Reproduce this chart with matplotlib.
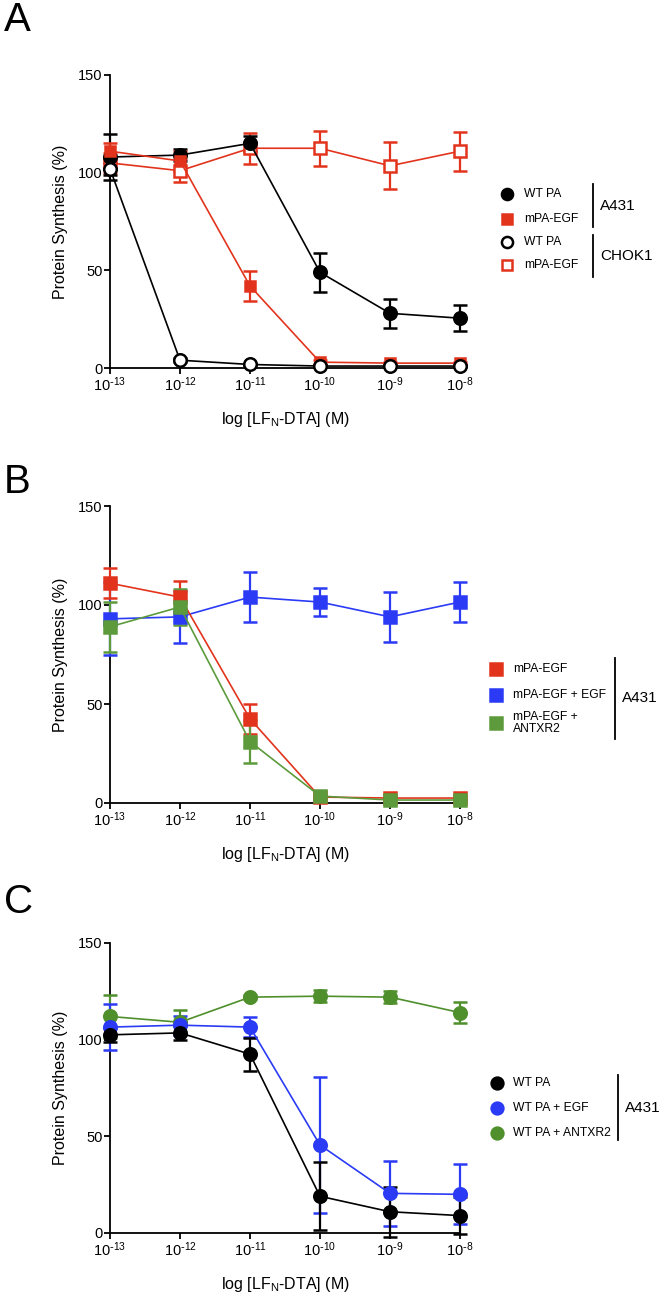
import matplotlib
matplotlib.use('Agg')
import matplotlib.pyplot as plt
from matplotlib.lines import Line2D
import numpy as np

plt.rcParams.update({'font.family': ['Liberation Sans', 'DejaVu Sans'],
                     'mathtext.default': 'regular', 'font.size': 10})

W, H = 666, 1298
RED = '#e2341d'
BLUE = '#2b3bf5'
GREEN = '#5c9a3c'
GREEN_C = '#4f8f2c'

conc = [1e-13, 1e-12, 1e-11, 1e-10, 1e-9, 1e-8]
xtick_labels = ['10$^{\\text{-}13}$', '10$^{\\text{-}12}$', '10$^{\\text{-}11}$',
                '10$^{\\text{-}10}$', '10$^{\\text{-}9}$', '10$^{\\text{-}8}$']

# panel A
a_wt_a431 = [108, 109, 115, 49, 28, 25.5]
a_wt_a431_err = [12, 3, 4, 10, 7.5, 6.5]
a_egf_a431 = [111, 106, 42, 3, 2.5, 2.5]
a_egf_a431_err = [4, 5, 7.5, 1, 0.5, 0.5]
a_wt_chok1 = [102, 4, 1.8, 1, 1, 1]
a_wt_chok1_err = [3, 1, 0.5, 0.5, 0.5, 0.5]
a_egf_chok1 = [105, 101, 112.5, 112.5, 103.5, 111]
a_egf_chok1_err = [5, 6, 8, 9, 12, 10]

# panel B
b_egf = [111, 104, 42.5, 3, 2.5, 2.5]
b_egf_err = [7.5, 8, 7.5, 0.5, 0.5, 0.5]
b_egf_egf = [93, 94, 104, 101.5, 94, 101.5]
b_egf_egf_err = [18.5, 13, 12.5, 7, 12.5, 10]
b_egf_antxr2 = [89, 99, 31, 3.5, 1.5, 1.5]
b_egf_antxr2_err = [12.5, 9, 11, 0.5, 0.5, 0.5]

# panel C
c_wt = [102.5, 103.5, 92.5, 19, 11, 9]
c_wt_err = [3.5, 3.5, 8.5, 17.5, 13, 9.5]
c_wt_egf = [106.5, 107.5, 106.5, 45.5, 20.5, 20]
c_wt_egf_err = [12, 5, 5, 35, 17, 15.5]
c_wt_antxr2 = [112, 109, 122, 122.5, 122, 114]
c_wt_antxr2_err = [11, 6.5, 1, 3, 3, 5.5]


def fx(px):
    return px / W


def fy(py):
    return 1 - py / H


def series(ax, y, err, color, marker, ms, face=None):
    face = color if face is None else face
    ax.errorbar(conc, y, yerr=err, color=color, lw=1.2, elinewidth=1.6,
                capsize=5, capthick=1.6, marker=marker, ms=ms, mfc=face,
                mec=color, mew=1.8, clip_on=False, zorder=3)


def style(ax):
    ax.set_xscale('log')
    ax.set_xlim(1e-13, 1e-8)
    ax.set_ylim(0, 150)
    ax.set_xticks(conc)
    ax.set_xticklabels(xtick_labels)
    ax.xaxis.set_minor_locator(matplotlib.ticker.NullLocator())
    ax.set_yticks([0, 50, 100, 150])
    for s in ['top', 'right']:
        ax.spines[s].set_visible(False)
    for s in ['left', 'bottom']:
        ax.spines[s].set_linewidth(1.3)
    ax.tick_params(width=1.3, length=4, labelsize=10.5, pad=1.5)
    ax.set_ylabel('Protein Synthesis (%)', fontsize=11.5, labelpad=7)
    ax.set_xlabel('log [LF$_N$-DTA] (M)', fontsize=11.5, labelpad=11)


def legend(fig, entries, mx, tx, rows, groups):
    for (color, marker, ms, face, label), ry in zip(entries, rows):
        fig.add_artist(Line2D([fx(mx)], [fy(ry)], marker=marker, ms=ms, color=color,
                              mfc=face, mec=color, mew=1.8, ls='none'))
        fig.text(fx(tx), fy(ry), label, ha='left', va='center', fontsize=8.7, linespacing=1.05)
    for lx, y0, y1, gl in groups:
        fig.add_artist(Line2D([fx(lx), fx(lx)], [fy(y0), fy(y1)], color='black', lw=1.3))
        fig.text(fx(lx + 7), fy((y0 + y1) / 2), gl, ha='left', va='center', fontsize=11)


fig = plt.figure(figsize=(W / 100, H / 100), dpi=100)
left, width = fx(110), fx(460) - fx(110)
axA = fig.add_axes([left, fy(368), width, fy(75) - fy(368)])
axB = fig.add_axes([left, fy(803), width, fy(506) - fy(803)])
axC = fig.add_axes([left, fy(1233), width, fy(943) - fy(1233)])

series(axA, a_egf_chok1, a_egf_chok1_err, RED, 's', 8, 'white')
series(axA, a_wt_a431, a_wt_a431_err, 'black', 'o', 9)
series(axA, a_egf_a431, a_egf_a431_err, RED, 's', 7.5)
series(axA, a_wt_chok1, a_wt_chok1_err, 'black', 'o', 9, 'white')

series(axB, b_egf_egf, b_egf_egf_err, BLUE, 's', 8)
series(axB, b_egf, b_egf_err, RED, 's', 8)
series(axB, b_egf_antxr2, b_egf_antxr2_err, GREEN, 's', 8)

series(axC, c_wt_antxr2, c_wt_antxr2_err, GREEN_C, 'o', 9)
series(axC, c_wt_egf, c_wt_egf_err, BLUE, 'o', 9)
series(axC, c_wt, c_wt_err, 'black', 'o', 9)

for ax in (axA, axB, axC):
    style(ax)

legend(fig, [('black', 'o', 8, 'black', 'WT PA'),
             (RED, 's', 7.5, RED, 'mPA-EGF'),
             ('black', 'o', 8, 'white', 'WT PA'),
             (RED, 's', 7.5, 'white', 'mPA-EGF')],
       507, 524, [194, 219, 242, 265],
       [(593, 184, 227, 'A431'), (593, 235, 277, 'CHOK1')])

legend(fig, [(RED, 's', 8, RED, 'mPA-EGF'),
             (BLUE, 's', 8, BLUE, 'mPA-EGF + EGF'),
             (GREEN, 's', 8, GREEN, 'mPA-EGF +\nANTXR2')],
       496, 513, [669, 695, 723],
       [(615, 658, 739, 'A431')])

legend(fig, [('black', 'o', 8.5, 'black', 'WT PA'),
             (BLUE, 'o', 8.5, BLUE, 'WT PA + EGF'),
             (GREEN_C, 'o', 8.5, GREEN_C, 'WT PA + ANTXR2')],
       497, 513, [1083, 1108, 1133],
       [(618, 1075, 1140, 'A431')])

for lab, py in zip(['A', 'B', 'C'], [1, 463, 883]):
    fig.text(fx(4), fy(py), lab, fontsize=29, ha='left', va='top')

fig.savefig('out.png', dpi=100)
